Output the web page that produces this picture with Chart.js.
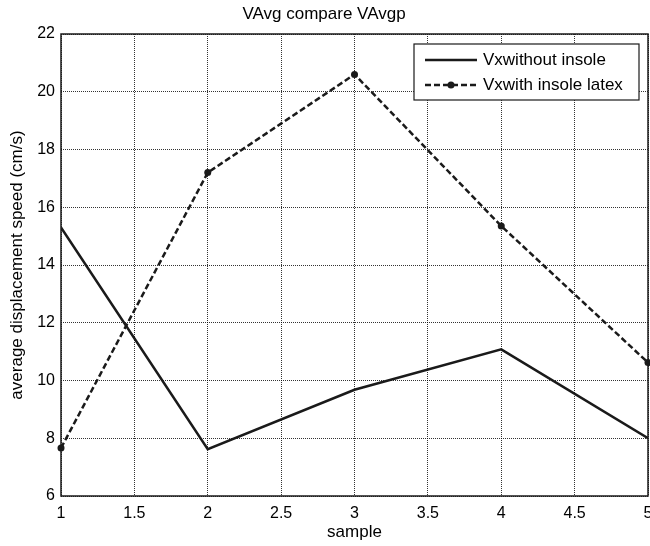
<!DOCTYPE html>
<html>
<head>
<meta charset="utf-8">
<script src="https://cdn.jsdelivr.net/npm/chart.js@4/dist/chart.umd.min.js"></script>
<style>
  html, body { margin: 0; padding: 0; background: #fff; }
  canvas { display: block; }
</style>
</head>
<body>
<canvas id="myChartVAvg" width="650" height="546"></canvas>
<script>
// data - START
const samples = [1, 2, 3, 4, 5];
const vxWithoutInsole = [15.3, 7.62, 9.68, 11.08, 8.0];
const vxWithInsoleLatex = [7.66, 17.2, 20.6, 15.35, 10.62];
const seriesNames = ['Vxwithout insole', 'Vxwith insole latex'];
// data - END

const FONT = "'Liberation Sans', Arial, Helvetica, sans-serif";
const INK = '#1a1a1a';

// box around the axes plus a legend drawn inside the plot (matlab style)
const boxLegend = {
    id: 'boxLegend',
    afterDraw(chart) {
        const ctx = chart.ctx;
        const a = chart.chartArea;
        ctx.save();
        ctx.strokeStyle = INK;
        ctx.lineWidth = 1.5;
        ctx.setLineDash([]);
        ctx.strokeRect(a.left, a.top, a.right - a.left, a.bottom - a.top);

        // legend box
        const lx = 414, ly = 44, lw = 225, lh = 56;
        ctx.fillStyle = '#fff';
        ctx.fillRect(lx, ly, lw, lh);
        ctx.lineWidth = 1.2;
        ctx.strokeRect(lx, ly, lw, lh);

        const rows = [60, 85];
        chart.data.datasets.forEach((ds, i) => {
            const y = rows[i];
            ctx.strokeStyle = ds.borderColor;
            ctx.lineWidth = ds.borderWidth;
            ctx.setLineDash(ds.borderDash || []);
            ctx.beginPath();
            ctx.moveTo(425, y);
            ctx.lineTo(477, y);
            ctx.stroke();
            ctx.setLineDash([]);
            if (ds.pointRadius > 0) {
                ctx.fillStyle = ds.pointBackgroundColor;
                ctx.beginPath();
                ctx.arc(451, y, ds.pointRadius, 0, Math.PI * 2);
                ctx.fill();
            }
            ctx.fillStyle = '#000';
            ctx.font = '17px ' + FONT;
            ctx.textAlign = 'left';
            ctx.textBaseline = 'middle';
            ctx.fillText(ds.label, 483, y);
        });
        ctx.restore();
    }
};

const vavgData = {
    datasets: [
        {
            label: seriesNames[0],
            data: samples.map((s, i) => ({ x: s, y: vxWithoutInsole[i] })),
            borderColor: INK,
            borderWidth: 2.5,
            pointRadius: 0,
            pointBackgroundColor: INK,
            tension: 0
        },
        {
            label: seriesNames[1],
            data: samples.map((s, i) => ({ x: s, y: vxWithInsoleLatex[i] })),
            borderColor: INK,
            borderWidth: 2.5,
            borderDash: [6, 3],
            pointRadius: 3.5,
            pointBackgroundColor: INK,
            pointBorderWidth: 0,
            tension: 0,
            clip: false
        }
    ]
};

const vavgConfig = {
    type: 'line',
    data: vavgData,
    options: {
        responsive: false,
        animation: false,
        devicePixelRatio: 1,
        layout: { autoPadding: false, padding: { left: 0, right: 2, top: 0, bottom: 0 } },
        plugins: {
            legend: { display: false },
            tooltip: { enabled: false },
            title: {
                display: true,
                text: 'VAvg compare VAvgp',
                color: '#000',
                font: { family: FONT, size: 17, weight: 'normal' },
                padding: { top: 4.5, bottom: 9.1 }
            }
        },
        scales: {
            x: {
                type: 'linear',
                min: 1,
                max: 5,
                ticks: {
                    stepSize: 0.5,
                    color: '#000',
                    padding: 8,
                    maxRotation: 0,
                    font: { family: FONT, size: 16 },
                    callback: (value) => String(value)
                },
                grid: { color: 'rgba(0,0,0,0.8)', lineWidth: 1, drawTicks: false },
                border: { display: false, dash: [1, 1] },
                title: {
                    display: true,
                    text: 'sample',
                    color: '#000',
                    font: { family: FONT, size: 17 },
                    padding: { top: 0, bottom: 3 }
                },
                afterFit(scale) {
                    scale.height = 50;
                    scale.paddingLeft = 0;
                    scale.paddingRight = 0;
                }
            },
            y: {
                min: 6,
                max: 22,
                ticks: {
                    stepSize: 2,
                    color: '#000',
                    padding: 6,
                    font: { family: FONT, size: 16 }
                },
                grid: { color: 'rgba(0,0,0,0.8)', lineWidth: 1, drawTicks: false },
                border: { display: false, dash: [1, 1] },
                title: {
                    display: true,
                    text: 'average displacement speed (cm/s)',
                    color: '#000',
                    font: { family: FONT, size: 17 },
                    padding: { top: 7, bottom: 0 }
                },
                afterFit(scale) {
                    scale.width = 61;
                }
            }
        }
    },
    plugins: [boxLegend]
};

new Chart('myChartVAvg', vavgConfig);
</script>
</body>
</html>
